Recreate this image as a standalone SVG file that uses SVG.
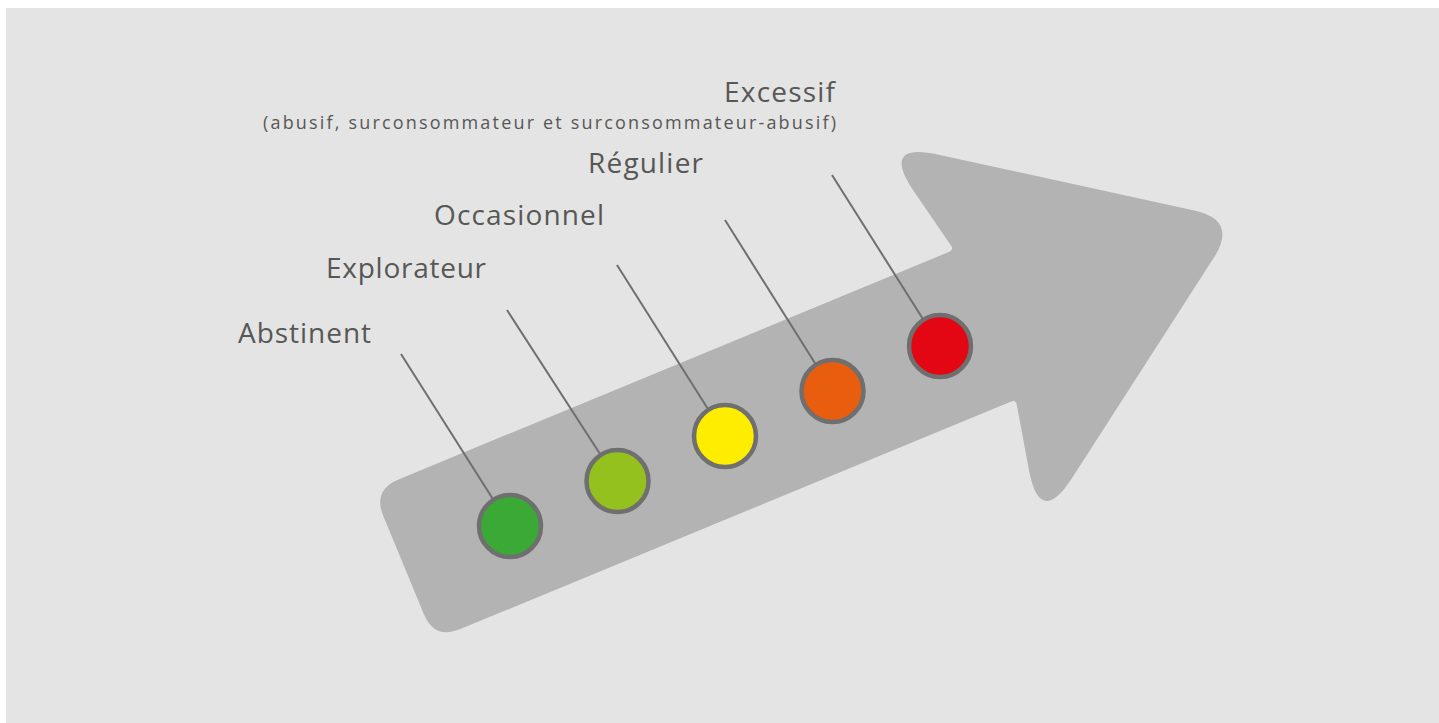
<svg xmlns="http://www.w3.org/2000/svg" width="1439" height="723" viewBox="0 0 1439 723">
<style>
.lbl{font-family:"Open Sans","Liberation Sans",sans-serif;fill:#575756;font-size:28px}
.sub{font-family:"Open Sans","Liberation Sans",sans-serif;fill:#575756;font-size:18px}
.lead{stroke:#6f6f6f;stroke-width:2;fill:none}
.dot{stroke:#6f6f6f;stroke-width:4.5}
</style>
<rect x="0" y="0" width="1439" height="723" fill="#ffffff"/>
<rect x="6" y="8" width="1433" height="715" fill="#e4e4e4"/>
<g id="arrow">
<path transform="translate(368,492) rotate(-22.45)" fill="#b3b3b3" d="M 5,28 Q 5,0 33,0 L 629,0 Q 634,0 632.97,-4.89 L 619.4,-69.3 Q 607,-128 656.3,-93.8 L 871.1,55.4 Q 908,81 871.1,106.6 L 656.3,255.8 Q 607,290 619.4,231.3 L 632.97,166.89 Q 634,162 629,162 L 33,162 Q 5,162 5,134 Z"/>
</g>
<g id="connectors">
<line class="lead" x1="401" y1="354" x2="510" y2="526"/>
<line class="lead" x1="507" y1="310" x2="617.5" y2="481"/>
<line class="lead" x1="617" y1="265" x2="725" y2="436"/>
<line class="lead" x1="725" y1="220" x2="832.5" y2="391"/>
<line class="lead" x1="832" y1="175" x2="940" y2="346"/>
</g>
<g id="abstinent">
<circle class="dot" cx="510" cy="526" r="31" fill="#3aa935"/>
<text class="lbl" x="238" y="343" textLength="133">Abstinent</text>
</g>
<g id="explorateur">
<circle class="dot" cx="617.5" cy="481" r="31" fill="#95c11f"/>
<text class="lbl" x="326" y="278" textLength="160">Explorateur</text>
</g>
<g id="occasionnel">
<circle class="dot" cx="725" cy="436" r="31" fill="#ffed00"/>
<text class="lbl" x="434" y="225" textLength="170">Occasionnel</text>
</g>
<g id="regulier">
<circle class="dot" cx="832.5" cy="391" r="31" fill="#e95d0f"/>
<text class="lbl" x="588" y="173" textLength="115">Régulier</text>
</g>
<g id="excessif">
<circle class="dot" cx="940" cy="346" r="31" fill="#e30613"/>
<text class="lbl" x="724" y="102" textLength="111">Excessif</text>
<text class="sub" x="263" y="129" textLength="573">(abusif, surconsommateur et surconsommateur-abusif)</text>
</g>
</svg>
